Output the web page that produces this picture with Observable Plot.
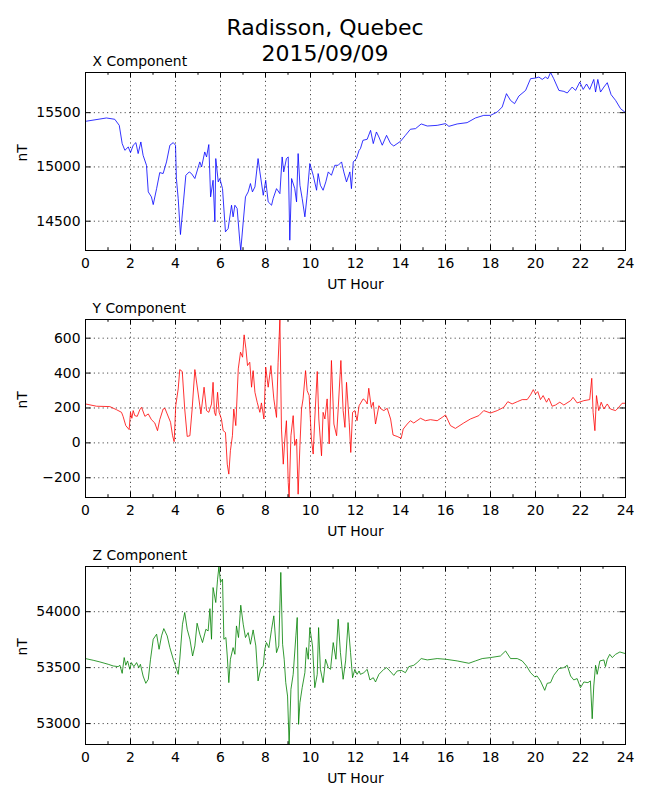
<!DOCTYPE html>
<html>
<head>
<meta charset="utf-8">
<script src="https://cdn.jsdelivr.net/npm/d3@7"></script>
<script src="https://cdn.jsdelivr.net/npm/@observablehq/plot@0.6"></script>
<style>
  body { margin: 0; background: white; }
  #fig { position: relative; width: 650px; height: 800px; background: white; font-family: "DejaVu Sans", sans-serif; color: black; }
  #suptitle { position: absolute; left: 0; top: 15px; width: 650px; text-align: center; font-size: 22px; line-height: 26px; }
  .panel { position: absolute; left: 0; }
</style>
</head>
<body>
<div id="fig">
  <div id="suptitle">Radisson, Quebec<br>2015/09/09</div>
</div>
<script>
// ---------- data ----------
const hourTicks = [0, 2, 4, 6, 8, 10, 12, 14, 16, 18, 20, 22, 24];
const hourMinorTicks = [1, 3, 5, 7, 9, 11, 13, 15, 17, 19, 21, 23];

const xTitle = "X Component";
const xTicks = [14500, 15000, 15500];
const xHours = [0,0.93,1.30,1.50,1.63,1.75,1.90,2.00,2.12,2.24,2.34,2.46,2.56,2.71,2.79,2.93,3.01,3.16,3.30,3.45,3.60,3.75,3.90,4.00,4.04,4.12,4.22,4.34,4.46,4.61,4.71,4.86,5.08,5.16,5.30,5.38,5.48,5.56,5.67,5.75,5.79,5.90,5.97,6.09,6.22,6.34,6.49,6.56,6.64,6.74,6.86,6.90,7.01,7.11,7.23,7.33,7.42,7.53,7.67,7.75,7.90,8.01,8.12,8.27,8.34,8.49,8.64,8.74,8.81,8.93,9.01,9.08,9.16,9.30,9.38,9.45,9.53,9.63,9.75,9.85,9.97,10.12,10.27,10.34,10.44,10.56,10.68,10.79,10.93,11.08,11.23,11.38,11.48,11.60,11.75,11.82,11.90,12.04,12.16,
  12.22,12.33,12.52,12.67,12.79,12.93,13.04,13.19,13.38,13.56,13.70,14.00,14.22,14.44,14.67,14.92,15.19,15.63,16.00,16.15,16.52,16.96,17.33,17.70,18.00,18.30,18.52,18.71,18.89,19.07,19.26,19.56,19.78,20.00,20.15,20.30,20.44,20.55,20.67,20.81,21.04,21.26,21.41,21.63,21.78,21.97,22.12,22.27,22.41,22.59,22.67,22.77,22.89,23.04,23.19,23.36,23.56,23.78,24.00];
const xValues = [15420,15451,15439,15383,15215,15153,15184,15132,15200,15224,15123,15230,15107,15015,14770,14724,14653,14800,14948,14939,15046,15200,15224,15200,14893,14709,14377,14647,14923,14954,14939,14893,15046,15000,15138,15092,15206,14724,14877,14494,15077,14862,14893,14800,14402,14432,14647,14540,14647,14617,14310,14230,14494,14724,14770,14847,14770,14816,15077,14954,14739,14877,14678,14647,14709,14800,14754,15092,14954,15077,15092,14325,14893,14800,14678,15123,14831,14709,14540,14739,15031,14923,14785,14939,14831,14785,14862,14954,14923,15015,15015,15046,14954,14862,14954,14800,15046,15077,15153,
  15169,15245,15255,15337,15215,15322,15276,15200,15291,15215,15193,15236,15291,15347,15353,15396,15377,15383,15399,15374,15396,15408,15451,15475,15475,15506,15552,15675,15613,15583,15653,15705,15813,15819,15828,15806,15828,15813,15870,15813,15705,15696,15681,15736,15705,15782,15714,15764,15714,15806,15690,15806,15690,15736,15776,15666,15613,15537,15500];

const yTitle = "Y Component";
const yTicks = [-200, 0, 200, 400, 600];
const yHours = [0,0.49,1.08,1.38,1.60,1.67,1.79,1.94,2.00,2.06,2.12,2.19,2.30,2.41,2.49,2.64,2.79,2.93,3.08,3.20,3.30,3.45,3.53,3.63,3.78,3.87,3.94,4.01,4.12,4.19,4.30,4.41,4.52,4.64,4.74,4.86,5.01,5.13,5.27,5.38,5.48,5.60,5.67,5.73,5.79,5.87,5.94,6.04,6.12,6.22,6.30,6.37,6.44,6.53,6.59,6.68,6.79,6.89,6.98,7.05,7.13,7.20,7.30,7.38,7.45,7.53,7.63,7.75,7.82,7.93,8.01,8.12,8.24,8.37,8.49,8.56,8.64,8.71,8.79,8.86,8.93,9.01,9.05,9.13,9.23,9.30,9.38,9.45,9.53,9.60,9.67,9.78,9.85,9.94,10.04,10.12,10.19,10.30,10.37,10.49,10.56,10.64,10.74,10.83,10.93,11.04,11.16,11.23,11.35,11.45,11.53,11.60,11.72,11.79,11.87,11.97,12.07,12.16,
  12.34,12.44,12.52,12.59,12.70,12.79,12.89,13.04,13.14,13.26,13.41,13.56,13.67,13.85,14.03,14.12,14.30,14.44,14.59,14.89,15.11,15.33,15.63,15.85,16.00,16.22,16.44,16.81,17.11,17.48,17.70,18.00,18.30,18.59,18.77,18.96,19.19,19.41,19.63,19.78,19.90,20.00,20.10,20.22,20.34,20.49,20.59,20.74,20.89,21.08,21.26,21.56,21.67,21.85,22.15,22.41,22.50,22.56,22.64,22.71,22.81,22.92,23.04,23.19,23.33,23.56,23.70,23.85,24.00];
const yValues = [223,210,208,190,175,152,99,76,175,141,185,156,152,189,204,152,166,133,114,70,133,194,198,166,118,41,7,213,309,420,409,194,37,41,194,420,280,166,319,185,175,223,347,175,156,290,175,137,70,60,-122,-179,-45,41,194,99,424,520,491,619,539,443,462,319,414,290,233,175,229,137,434,319,443,252,146,462,707,79,-122,22,127,-227,-313,41,156,-15,22,-294,-15,194,252,414,300,271,22,-64,137,409,137,-74,175,137,252,-6,472,108,41,194,472,185,89,347,118,-55,175,185,127,213,
  252,242,223,313,204,233,108,213,194,185,198,137,45,37,26,79,108,127,114,141,127,133,127,146,160,99,83,114,137,156,185,171,185,204,236,223,236,248,248,275,305,280,294,248,271,233,256,210,217,233,217,242,261,229,242,248,370,175,70,271,185,233,194,223,194,185,204,227,227];

const zTitle = "Z Component";
const zTicks = [53000, 53500, 54000];
const zHours = [0,0.34,0.64,1.01,1.23,1.45,1.53,1.63,1.72,1.79,1.87,1.97,2.04,2.15,2.27,2.37,2.44,2.56,2.68,2.79,2.89,3.01,3.16,3.27,3.38,3.48,3.63,3.75,3.90,4.00,4.12,4.19,4.31,4.41,4.52,4.64,4.76,4.86,4.96,5.08,5.20,5.35,5.45,5.53,5.60,5.67,5.79,5.87,5.93,6.00,6.09,6.15,6.24,6.30,6.37,6.44,6.56,6.64,6.71,6.80,6.90,7.01,7.11,7.23,7.33,7.45,7.57,7.67,7.78,7.90,7.97,8.04,8.15,8.27,8.37,8.49,8.59,8.68,8.76,8.83,8.90,8.98,9.05,9.13,9.23,9.35,9.41,9.47,9.53,9.63,9.75,9.82,9.90,9.97,10.09,10.19,10.30,10.36,10.44,10.56,10.67,10.79,10.89,11.01,11.13,11.23,11.33,11.45,11.56,11.67,11.78,11.87,11.97,12.07,12.16,
  12.22,12.37,12.52,12.64,12.79,12.89,13.04,13.26,13.38,13.53,13.70,13.85,14.03,14.22,14.37,14.59,14.74,14.92,15.19,15.63,16.00,16.52,17.04,17.33,17.63,18.00,18.44,18.67,18.89,19.19,19.41,19.60,19.78,19.96,20.07,20.22,20.41,20.52,20.67,20.81,21.04,21.26,21.41,21.56,21.70,21.85,22.00,22.15,22.33,22.44,22.52,22.59,22.67,22.74,22.86,23.04,23.11,23.19,23.30,23.41,23.56,23.75,24.00];
const zValues = [53581,53566,53551,53530,53515,53509,53521,53449,53590,53521,53560,53485,53545,53509,53545,53500,53530,53425,53360,53396,53575,53754,53799,53664,53784,53849,53784,53679,53575,53515,53440,53575,53888,53993,53843,53754,53604,53694,53897,53799,53724,53843,53828,54027,53754,54216,54082,54291,54404,54261,54291,53754,53769,53604,53366,53575,53679,53619,53873,53769,54058,53888,53769,53813,53709,53837,53694,53381,53485,53515,53664,53724,53679,53843,53963,53634,53694,54351,53709,53575,53366,53246,52813,53306,53440,53784,53948,52993,53187,53321,53455,53679,53575,53858,53694,53321,53440,53858,53485,53366,53575,53500,53485,53724,53575,53933,53634,53396,53560,53903,53634,53410,53485,53440,53470,
  53440,53455,53485,53390,53410,53372,53440,53485,53500,53470,53431,53470,53476,53455,53509,53521,53545,53581,53569,53581,53575,53560,53539,53560,53581,53590,53604,53649,53581,53581,53560,53515,53455,53419,53425,53381,53297,53360,53366,53431,53491,53500,53521,53425,53390,53402,53321,53372,53366,53381,53043,53336,53521,53440,53560,53569,53509,53575,53619,53590,53619,53640,53625];

// ---------- drawing ----------
const PLOT_H = 178, M_TOP = 30, M_BOTTOM = 50, MAJ = 5.5, MIN = 2.8;
const gridStyle = {stroke: "black", strokeOpacity: 1, strokeWidth: 0.7, strokeDasharray: "1.2,3.2"};

function panel(title, hours, values, color, ticks, top) {
  const data = hours.map((h, i) => ({h, v: values[i]}));
  const chart = Plot.plot({
    width: 650,
    height: M_TOP + PLOT_H + M_BOTTOM,
    marginLeft: 85, marginRight: 25, marginTop: M_TOP, marginBottom: M_BOTTOM,
    style: {fontFamily: "DejaVu Sans", fontSize: "13.9px", color: "black", background: "transparent", overflow: "visible"},
    x: {domain: [0, 24]},
    y: {domain: d3.extent(values)},
    marks: [
      Plot.gridX(hourTicks, gridStyle),
      Plot.gridY(ticks, gridStyle),
      Plot.line(data, {x: "h", y: "v", stroke: color, strokeWidth: 0.8}),
      Plot.tickX(hourTicks, {x: d => d, insetTop: PLOT_H - MAJ, stroke: "black", strokeWidth: 1}),
      Plot.tickX(hourTicks, {x: d => d, insetBottom: PLOT_H - MAJ, stroke: "black", strokeWidth: 1}),
      Plot.tickX(hourMinorTicks, {x: d => d, insetTop: PLOT_H - MIN, stroke: "black", strokeWidth: 1}),
      Plot.tickX(hourMinorTicks, {x: d => d, insetBottom: PLOT_H - MIN, stroke: "black", strokeWidth: 1}),
      Plot.tickY(ticks, {y: d => d, insetRight: 540 - MAJ, stroke: "black", strokeWidth: 1}),
      Plot.tickY(ticks, {y: d => d, insetLeft: 540 - MAJ, stroke: "black", strokeWidth: 1}),
      Plot.frame({stroke: "black", strokeWidth: 1}),
      Plot.axisX(hourTicks, {tickSize: 0, tickPadding: 8, tickFormat: d3.format("d"), label: null, fontSize: 13.9}),
      Plot.axisY(ticks, {tickSize: 0, tickPadding: 5, tickFormat: d3.format("d"), label: null, fontSize: 13.9}),
      Plot.text([title], {frameAnchor: "top-left", text: d => d, dx: 7, dy: -7, lineAnchor: "bottom", textAnchor: "start", fontSize: 13.9}),
      Plot.text(["UT Hour"], {frameAnchor: "bottom", text: d => d, dy: 38, fontSize: 13.9}),
      Plot.text(["nT"], {frameAnchor: "left", text: d => d, dx: -63, rotate: -90, fontSize: 13.9})
    ]
  });
  chart.classList.add("panel");
  chart.style.top = (top - M_TOP) + "px";
  document.getElementById("fig").appendChild(chart);
}

panel(xTitle, xHours, xValues, "#0000ff", xTicks, 72);
panel(yTitle, yHours, yValues, "#ff0000", yTicks, 319);
panel(zTitle, zHours, zValues, "#008000", zTicks, 566);
</script>
</body>
</html>
